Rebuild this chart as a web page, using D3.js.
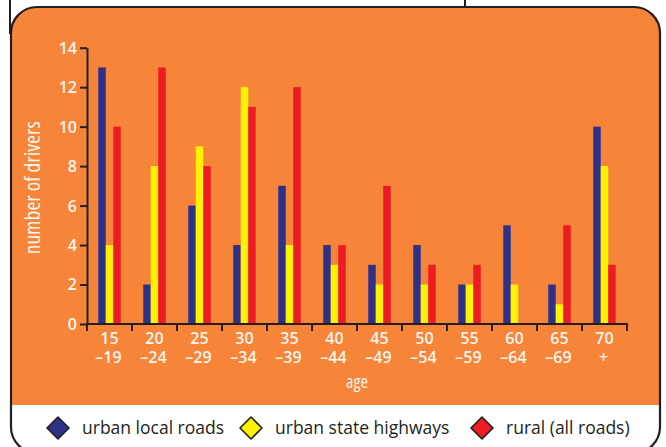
<!DOCTYPE html>
<html>
<head>
<meta charset="utf-8">
<script src="https://cdn.jsdelivr.net/npm/d3@7"></script>
<style>
  html, body { margin: 0; padding: 0; background: #ffffff; }
  svg { display: block; }
  text { font-family: "Open Sans", "Noto Sans", sans-serif; }
  .cond { font-stretch: 87.5%; }
</style>
</head>
<body>
<svg id="chart" width="666" height="447"></svg>
<script>
// Age bands (two-line labels) and driver counts per road type
const ageStart = ["15", "20", "25", "30", "35", "40", "45", "50", "55", "60", "65", "70"];
const ageEnd   = ["\u201319", "\u201324", "\u201329", "\u201334", "\u201339", "\u201344", "\u201349", "\u201354", "\u201359", "\u201364", "\u201369", "+"];
const seriesNames = ["urban local roads", "urban state highways", "rural (all roads)"];
const urbanLocal  = [13, 2, 6, 4, 7, 4, 3, 4, 2, 5, 2, 10];
const urbanState  = [4, 8, 9, 12, 4, 3, 2, 2, 2, 2, 1, 8];
const rural       = [10, 13, 8, 11, 12, 4, 7, 3, 3, 0, 5, 3];
const yTicks = [0, 2, 4, 6, 8, 10, 12, 14];

const colors = ["#2e3188", "#fff200", "#ed1c24"];
const panelFill = "#f6853a";
const labelColor = "#fff6ee";
const ink = "#231f20";

const svg = d3.select("#chart");

// Rounded panel: orange plot area with white legend strip below
const panel = { x: 11, y: 7, w: 649, h: 446, r: 26 };
const legendTop = 405;

const clip = svg.append("clipPath").attr("id", "panelClip");
clip.append("rect")
  .attr("x", panel.x).attr("y", panel.y)
  .attr("width", panel.w).attr("height", panel.h)
  .attr("rx", panel.r).attr("ry", panel.r);

const inner = svg.append("g").attr("clip-path", "url(#panelClip)");
inner.append("rect")
  .attr("x", panel.x).attr("y", panel.y)
  .attr("width", panel.w).attr("height", legendTop - panel.y)
  .attr("fill", panelFill);
inner.append("rect")
  .attr("x", panel.x).attr("y", legendTop)
  .attr("width", panel.w).attr("height", panel.h)
  .attr("fill", "#ffffff");

svg.append("rect")
  .attr("x", panel.x).attr("y", panel.y)
  .attr("width", panel.w).attr("height", panel.h)
  .attr("rx", panel.r).attr("ry", panel.r)
  .attr("fill", "none").attr("stroke", ink).attr("stroke-width", 2.2);

// connector lines running up off the page
svg.append("line").attr("x1", 10).attr("x2", 10).attr("y1", 0).attr("y2", 34)
  .attr("stroke", ink).attr("stroke-width", 2);
svg.append("line").attr("x1", 465).attr("x2", 465).attr("y1", 0).attr("y2", 7)
  .attr("stroke", ink).attr("stroke-width", 2);

// Scales
const plotLeft = 87, plotRight = 627, plotTop = 47.7, plotBottom = 324;
const x0 = d3.scaleBand().domain(ageStart).range([plotLeft, plotRight]).padding(0);
const groupW = 22.5;
const x1 = d3.scaleBand().domain(seriesNames).range([0, groupW]).padding(0);
const y = d3.scaleLinear().domain([0, 14]).range([plotBottom, plotTop]);

const seriesValues = [urbanLocal, urbanState, rural];

// Bars
const groups = svg.append("g").selectAll("g")
  .data(ageStart)
  .join("g")
  .attr("transform", d => `translate(${x0(d) + (x0.bandwidth() - groupW) / 2},0)`);

groups.selectAll("rect")
  .data((d, i) => seriesNames.map((s, k) => ({ s, v: seriesValues[k][i], k })))
  .join("rect")
  .attr("x", d => x1(d.s))
  .attr("width", x1.bandwidth())
  .attr("y", d => y(d.v))
  .attr("height", d => y(0) - y(d.v))
  .attr("fill", d => colors[d.k]);

// Y axis
const yAxis = svg.append("g")
  .attr("transform", `translate(${plotLeft},0)`)
  .call(d3.axisLeft(y).tickValues(yTicks).tickSize(7).tickPadding(3).tickSizeOuter(0));
yAxis.select(".domain").attr("stroke", ink).attr("stroke-width", 2);
yAxis.selectAll(".tick line").attr("stroke", ink).attr("stroke-width", 2);
yAxis.selectAll(".tick text")
  .attr("fill", labelColor).style("font-size", "16px").style("font-weight", 600)
  .attr("dy", "0.34em");

// X axis: baseline with ticks at band boundaries
const boundaries = ageStart.map(d => x0(d)).concat([plotRight]);
const xAxis = svg.append("g");
xAxis.append("line")
  .attr("x1", plotLeft - 1).attr("x2", plotRight + 1)
  .attr("y1", plotBottom).attr("y2", plotBottom)
  .attr("stroke", ink).attr("stroke-width", 2);
xAxis.selectAll("line.tk")
  .data(boundaries)
  .join("line")
  .attr("class", "tk")
  .attr("x1", d => d).attr("x2", d => d)
  .attr("y1", plotBottom).attr("y2", plotBottom + 7)
  .attr("stroke", ink).attr("stroke-width", 2);

xAxis.selectAll("text.xs")
  .data(ageStart)
  .join("text")
  .attr("class", "xs")
  .attr("x", d => x0(d) + x0.bandwidth() / 2)
  .attr("y", 344)
  .attr("text-anchor", "middle")
  .attr("fill", labelColor)
  .style("font-size", "16px").style("font-weight", 600)
  .text(d => d);
xAxis.selectAll("text.xe")
  .data(ageStart)
  .join("text")
  .attr("class", "xe")
  .attr("x", d => x0(d) + x0.bandwidth() / 2 - 1)
  .attr("y", 363)
  .attr("text-anchor", "middle")
  .attr("fill", labelColor)
  .style("font-size", "16px").style("font-weight", 600)
  .text((d, i) => ageEnd[i]);

// Axis titles
svg.append("text")
  .attr("class", "cond")
  .attr("transform", `translate(40,${(plotTop + plotBottom) / 2 + 2}) rotate(-90)`)
  .attr("text-anchor", "middle")
  .attr("fill", labelColor)
  .style("font-size", "21.5px").style("font-weight", 500)
  .text("number of drivers");

svg.append("text")
  .attr("class", "cond")
  .attr("x", (plotLeft + plotRight) / 2).attr("y", 388)
  .attr("text-anchor", "middle")
  .attr("fill", labelColor)
  .style("font-size", "18px").style("font-weight", 500)
  .text("age");

// Legend
const legendX = [58, 251, 482];
const legend = svg.append("g").selectAll("g")
  .data(seriesNames)
  .join("g")
  .attr("transform", (d, i) => `translate(${legendX[i]},428)`);
legend.append("path")
  .attr("d", "M0,-11 L11,0 L0,11 L-11,0 Z")
  .attr("fill", (d, i) => colors[i])
  .attr("stroke", ink).attr("stroke-width", 1.6)
  .attr("stroke-linejoin", "round");
legend.append("text")
  .attr("x", 24).attr("y", 0).attr("dy", "0.35em")
  .attr("fill", ink)
  .style("font-size", "17.5px")
  .text(d => d);
</script>
</body>
</html>
